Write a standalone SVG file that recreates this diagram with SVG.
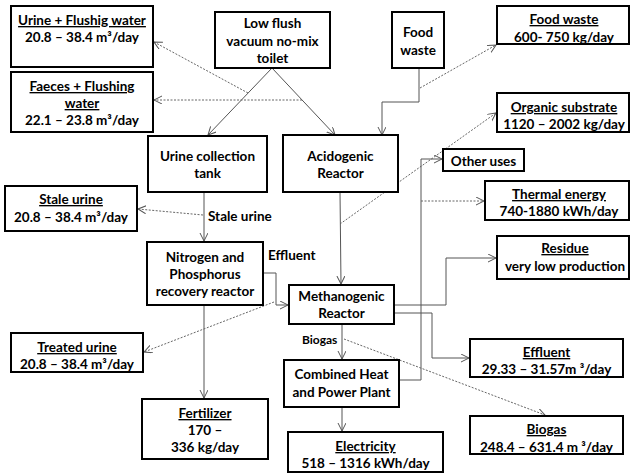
<svg xmlns="http://www.w3.org/2000/svg" width="630" height="473" viewBox="0 0 630 473">
<defs>
<style>
.box{fill:#fff;stroke:#000;stroke-width:2}
text{font-family:Lato,"Liberation Sans",sans-serif;font-weight:700;font-size:13.5px;fill:#000;text-anchor:middle}
.u{text-decoration:underline}
.lbl{text-anchor:start}
.sm{font-size:12px}
.ln{fill:none;stroke:#555;stroke-width:1;marker-end:url(#ah)}
.dl{fill:none;stroke:#666;stroke-width:1;stroke-dasharray:2 1.5;marker-end:url(#ah)}
</style>
<marker id="ah" markerWidth="9" markerHeight="9" refX="8" refY="4" orient="auto" markerUnits="userSpaceOnUse">
<path d="M0,0 L8,4 L0,8" fill="none" stroke="#555" stroke-width="1"/>
</marker>
</defs>
<rect width="630" height="473" fill="#fff"/>

<g id="connectors">
<path class="ln" d="M272,68 L208,135"/>
<path class="ln" d="M272,68 L335,135"/>
<path class="dl" d="M248,93 L154,42"/>
<path class="dl" d="M302,100 L154,100"/>
<path class="ln" d="M419,68 L419,102 L382,102 L382,135"/>
<path class="dl" d="M420,88 L496,45"/>
<path class="ln" d="M340,192 L341,284"/>
<path class="dl" d="M340,224 L496,113"/>
<path class="ln" d="M399,380 L421,380 L421,159 L442,159"/>
<path class="dl" d="M421,201 L484,201"/>
<path class="ln" d="M394,305 L446,305 L446,258 L496,258"/>
<path class="ln" d="M394,313 L432,313 L432,358 L469,358"/>
<path class="ln" d="M342,324 L342,359"/>
<path class="ln" d="M342,407 L342,431"/>
<path class="dl" d="M344,339 L545,415"/>
<path class="ln" d="M204,192 L204,241"/>
<path class="dl" d="M203,215 L138,209"/>
<path class="ln" d="M263,273 L276,273 L276,305 L288,305"/>
<path class="ln" d="M204,305 L204,398"/>
<path class="dl" d="M274,302 L144,352"/>
<text class="lbl" x="208" y="221">Stale urine</text>
<text class="lbl" x="268" y="260">Effluent</text>
<text class="lbl sm" x="302" y="344">Biogas</text>
</g>

<g id="urine_flush">
<rect class="box" x="11" y="6" width="142" height="61"/>
<text class="u" x="82" y="25">Urine + Flushig  water</text>
<text x="82" y="42">20.8 – 38.4 m³/day</text>
</g>

<g id="faeces_flush">
<rect class="box" x="11" y="72" width="142" height="60"/>
<text class="u" x="82" y="91">Faeces + Flushing</text>
<text class="u" x="82" y="108">water</text>
<text x="82" y="125">22.1 – 23.8 m³/day</text>
</g>

<g id="toilet">
<rect class="box" x="215" y="12" width="115" height="56"/>
<text x="272.5" y="28">Low flush</text>
<text x="272.5" y="46">vacuum no-mix</text>
<text x="272.5" y="63">toilet</text>
</g>

<g id="food_waste_in">
<rect class="box" x="392" y="12" width="52" height="56"/>
<text x="418" y="37">Food</text>
<text x="418" y="55">waste</text>
</g>

<g id="food_waste_out">
<rect class="box" x="497" y="6" width="132" height="38"/>
<text class="u" x="564" y="24">Food waste</text>
<text x="564" y="42">600- 750 kg/day</text>
</g>

<g id="organic_substrate">
<rect class="box" x="497" y="93" width="132" height="39"/>
<text class="u" x="564" y="112">Organic substrate</text>
<text x="564" y="129">1120 – 2002 kg/day</text>
</g>

<g id="other_uses">
<rect class="box" x="443" y="149" width="81" height="22"/>
<text x="483.5" y="166">Other uses</text>
</g>

<g id="thermal_energy">
<rect class="box" x="485" y="181" width="144" height="39"/>
<text class="u" x="559" y="199">Thermal energy</text>
<text x="559" y="216">740-1880 kWh/day</text>
</g>

<g id="residue">
<rect class="box" x="497" y="236" width="132" height="43"/>
<text class="u" x="565" y="253">Residue</text>
<text x="565" y="271">very low  production</text>
</g>

<g id="urine_tank">
<rect class="box" x="148" y="136" width="119" height="56"/>
<text x="207.5" y="161">Urine collection</text>
<text x="207.5" y="178">tank</text>
</g>

<g id="acidogenic">
<rect class="box" x="283" y="135" width="115" height="57"/>
<text x="340.5" y="161">Acidogenic</text>
<text x="340.5" y="178">Reactor</text>
</g>

<g id="stale_urine_out">
<rect class="box" x="5" y="186" width="132" height="45"/>
<text class="u" x="71" y="204">Stale urine</text>
<text x="71" y="222">20.8 – 38.4 m³/day</text>
</g>

<g id="np_reactor">
<rect class="box" x="147" y="242" width="116" height="63"/>
<text x="205" y="262">Nitrogen and</text>
<text x="205" y="279">Phosphorus</text>
<text x="205" y="296">recovery reactor</text>
</g>

<g id="methanogenic">
<rect class="box" x="289" y="285" width="105" height="39"/>
<text x="341.5" y="301">Methanogenic</text>
<text x="341.5" y="318">Reactor</text>
</g>

<g id="chp">
<rect class="box" x="284" y="360" width="115" height="47"/>
<text x="341.5" y="379">Combined Heat</text>
<text x="341.5" y="397">and Power Plant</text>
</g>

<g id="electricity">
<rect class="box" x="288" y="432" width="155" height="40"/>
<text class="u" x="365.5" y="451">Electricity</text>
<text x="365.5" y="468">518 – 1316 kWh/day</text>
</g>

<g id="effluent_out">
<rect class="box" x="470" y="339" width="153" height="38"/>
<text class="u" x="546.5" y="357">Effluent</text>
<text x="546.5" y="374">29.33 – 31.57m ³/day</text>
</g>

<g id="biogas_out">
<rect class="box" x="470" y="416" width="153" height="38"/>
<text class="u" x="546.5" y="434">Biogas</text>
<text x="546.5" y="452">248.4 – 631.4 m ³/day</text>
</g>

<g id="treated_urine">
<rect class="box" x="11" y="333" width="132" height="39"/>
<text class="u" x="77" y="352">Treated urine</text>
<text x="77" y="369">20.8 – 38.4 m³/day</text>
</g>

<g id="fertilizer">
<rect class="box" x="142" y="399" width="126" height="60"/>
<text class="u" x="205" y="418">Fertilizer</text>
<text x="205" y="435">170 –</text>
<text x="205" y="452">336 kg/day</text>
</g>
</svg>
